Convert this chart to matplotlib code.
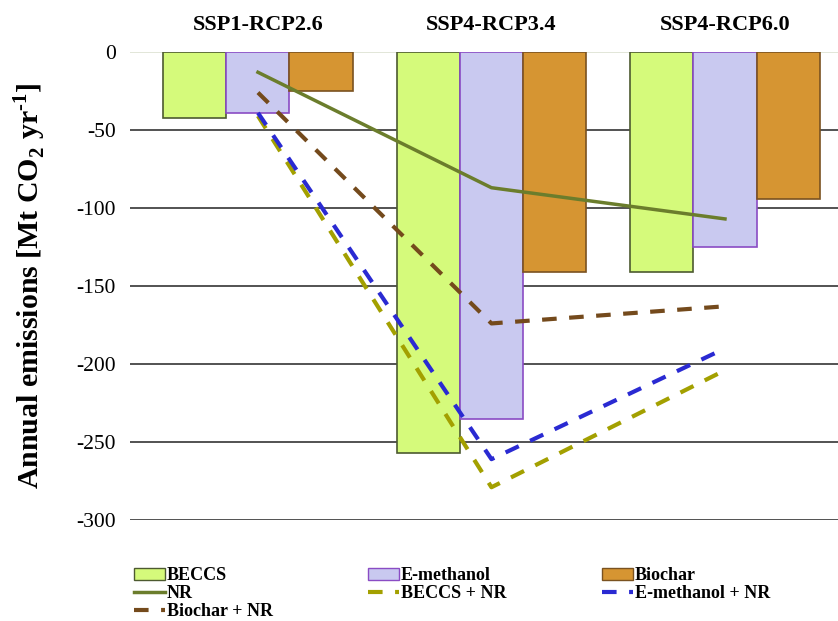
import numpy as np
import matplotlib.pyplot as plt
from matplotlib.patches import Patch
from matplotlib.lines import Line2D

scenarios = ['SSP1-RCP2.6', 'SSP4-RCP3.4', 'SSP4-RCP6.0']

beccs = [-42, -257, -141]
e_methanol = [-39, -235, -125]
biochar = [-25, -141, -94]

nr = [-13, -87, -107]
beccs_nr = [-41, -279, -204]
e_methanol_nr = [-39, -261, -190]
biochar_nr = [-26, -174, -163]

yticks = [0, -50, -100, -150, -200, -250, -300]

plt.rcParams['font.family'] = ['Liberation Serif', 'DejaVu Serif']
plt.rcParams['mathtext.fontset'] = 'custom'
plt.rcParams['mathtext.rm'] = 'Liberation Serif'
plt.rcParams['mathtext.bf'] = 'Liberation Serif:bold'

fig = plt.figure(figsize=(8.38, 6.21), dpi=100)
ax = fig.add_axes([130 / 838, 1 - 520 / 621, 708 / 838, 468 / 621])

x = np.arange(len(scenarios))
w = 0.27
dash = (0, (3.5, 3))

bar_styles = [
    (beccs, 'BECCS', '#d5fa7b', '#4d5a30'),
    (e_methanol, 'E-methanol', '#c9c9f0', '#8a4cc4'),
    (biochar, 'Biochar', '#d69532', '#7a5220'),
]
for i, (vals, lab, fc, ec) in enumerate(bar_styles):
    ax.bar(x + (i - 1) * w, vals, width=w, color=fc, edgecolor=ec,
           linewidth=1.2, zorder=2)

line_styles = [
    (nr, 'NR', '#6b7d2c', '-'),
    (beccs_nr, 'BECCS + NR', '#a3a000', dash),
    (e_methanol_nr, 'E-methanol + NR', '#2a2ad2', dash),
    (biochar_nr, 'Biochar + NR', '#744a1c', dash),
]
for vals, lab, c, ls in line_styles:
    ax.plot(x, vals, color=c, linestyle=ls, linewidth=3 if ls != '-' else 2.5,
            zorder=3)

for yv in yticks:
    if yv == 0:
        ax.axhline(yv, color='#dde2d2', linewidth=1.2, zorder=1)
    else:
        ax.axhline(yv, color='#444444', linewidth=1.3, zorder=1)

ax.set_xlim(-0.548, 2.484)
ax.set_ylim(-300, 0)
ax.set_yticks(yticks)
ax.set_yticklabels([str(v) for v in yticks], fontsize=15.5)
ax.tick_params(axis='y', length=0, pad=10)
ax.set_xticks(x)
ax.set_xticklabels(scenarios, fontsize=16, fontweight='bold')
ax.xaxis.tick_top()
ax.tick_params(axis='x', length=0, pad=12)
for s in ax.spines.values():
    s.set_visible(False)

ax.set_ylabel(r'Annual emissions [Mt CO$_\mathbf{2}$ yr$^\mathbf{\text{-}1}$]',
              fontsize=21.5, fontweight='bold')
ax.yaxis.set_label_coords(-0.116, 0.5)

handles = [
    Patch(facecolor='#d5fa7b', edgecolor='#4d5a30', label='BECCS'),
    Line2D([], [], color='#6b7d2c', lw=2.5, label='NR'),
    Line2D([], [], color='#744a1c', lw=3, ls=dash, label='Biochar + NR'),
    Patch(facecolor='#c9c9f0', edgecolor='#8a4cc4', label='E-methanol'),
    Line2D([], [], color='#a3a000', lw=3, ls=dash, label='BECCS + NR'),
    Patch(facecolor='#d69532', edgecolor='#7a5220', label='Biochar'),
    Line2D([], [], color='#2a2ad2', lw=3, ls=dash, label='E-methanol + NR'),
]
fig.legend(handles=handles, ncol=3, loc='upper left',
           bbox_to_anchor=(118 / 838, 1 - 551 / 621), frameon=False,
           prop={'size': 13, 'weight': 'bold'}, handlelength=1.7,
           handletextpad=0.1, labelspacing=0.05, columnspacing=5.3)

fig.savefig('out.png', dpi=100)
